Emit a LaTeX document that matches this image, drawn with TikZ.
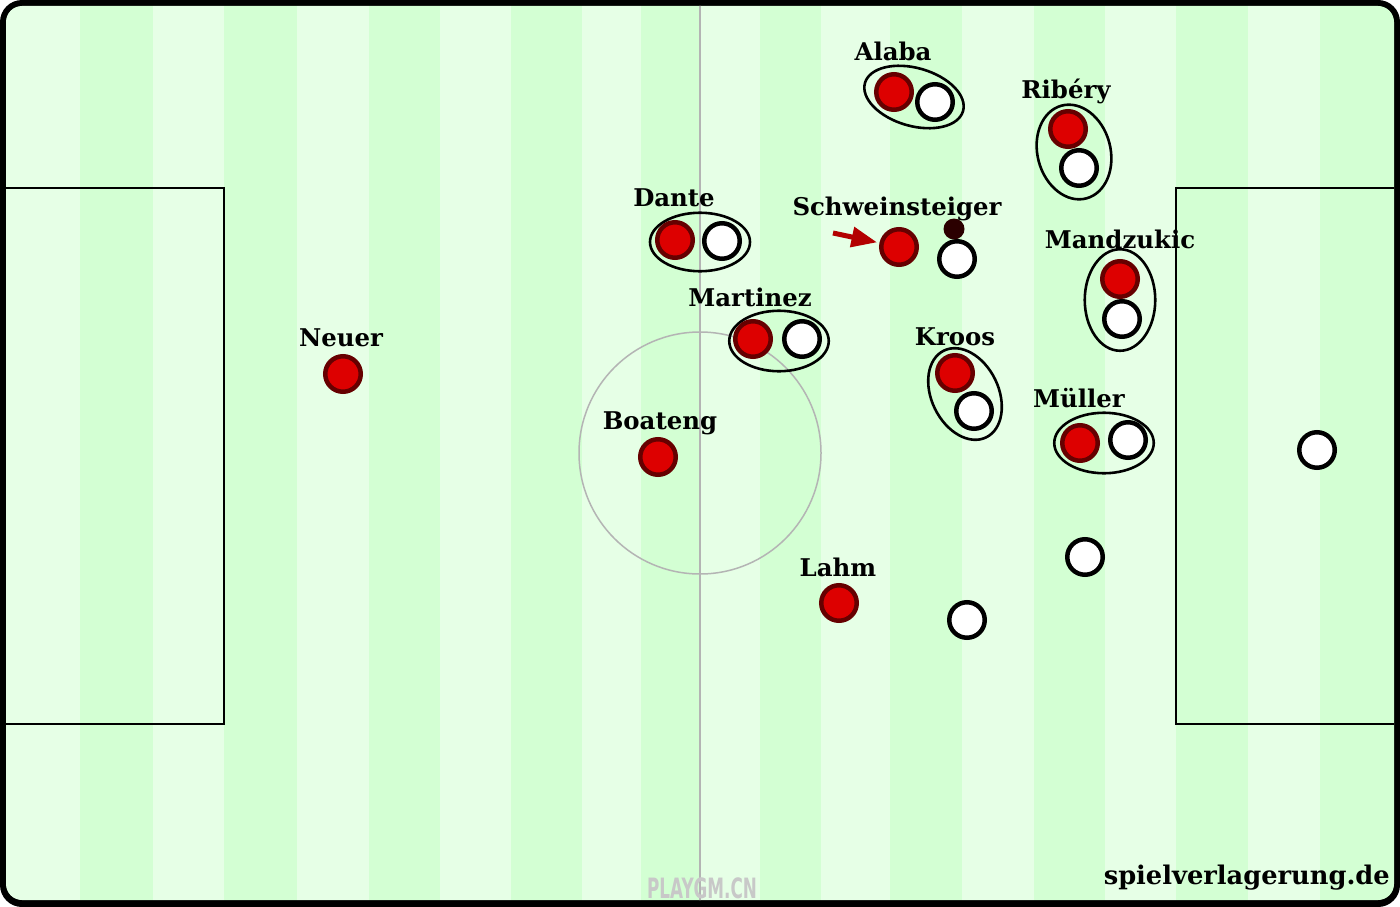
\documentclass[tikz,border=0pt]{standalone}
\usepackage{fontspec}
\setmainfont{DejaVu Serif}
\setsansfont{DejaVu Sans}
\usetikzlibrary{arrows,shapes.geometric}

\definecolor{lightgrass}{HTML}{E6FFE6}
\definecolor{darkgrass}{HTML}{D3FFD3}
\definecolor{playerred}{HTML}{DD0000}
\definecolor{playerrim}{HTML}{660000}
\definecolor{ballbrown}{HTML}{2B0000}
\definecolor{arrowred}{HTML}{B30000}
\definecolor{linegray}{HTML}{B4B4B4}
\definecolor{watergray}{HTML}{C8C8C8}

\tikzset{
  redplayer/.style={circle,draw=playerrim,fill=playerred,line width=4.5pt,minimum size=35.5pt,inner sep=0pt},
  whiteplayer/.style={circle,draw=black,fill=white,line width=4.5pt,minimum size=35.5pt,inner sep=0pt},
  pair/.style={ellipse,draw=black,line width=2.6pt,inner sep=0pt},
  ball/.style={circle,fill=ballbrown,inner sep=0pt,minimum size=21pt},
  playername/.style={font=\bfseries\fontsize{24.4}{24.4}\selectfont,anchor=base,inner sep=0pt}
}

\begin{document}
\begin{tikzpicture}[x=1pt,y=-1pt]
  \useasboundingbox (0,0) rectangle (1400,907);
  \fill[black,rounded corners=22pt] (0,0) rectangle (1400,907);
  \begin{scope}
    \clip[rounded corners=16pt] (6,6) rectangle (1394,900);
    \foreach \a/\b/\c in {0/80/lightgrass,80/153/darkgrass,153/224/lightgrass,224/297/darkgrass,
      297/369/lightgrass,369/440/darkgrass,440/511/lightgrass,511/582/darkgrass,
      582/641/lightgrass,641/700/darkgrass,700/760/lightgrass,760/821/darkgrass,
      821/890/lightgrass,890/962/darkgrass,962/1034/lightgrass,1034/1105/darkgrass,
      1105/1176/lightgrass,1176/1248/darkgrass,1248/1320/lightgrass,1320/1400/darkgrass}
      \fill[\c] (\a,0) rectangle (\b,907);
    \draw[linegray,line width=1.2pt] (700,0) -- (700,907);
    \draw[linegray,line width=1.5pt] (700,453) circle (121);
    \draw[line width=1.5pt] (0,188) rectangle (224,724);
    \draw[line width=1.5pt] (1176,188) rectangle (1400,724);
    \node[font=\sffamily\bfseries\fontsize{28}{28}\selectfont,text=watergray,xscale=0.6,anchor=base,inner sep=0pt] (mark) at (702,898) {PLAYGM.CN};
  \end{scope}

  \node[pair,minimum width=102pt,minimum height=58pt,rotate=-16] (E-Alaba) at (914,97) {};
  \node[pair,minimum width=96pt,minimum height=73pt,rotate=-75] (E-Ribery) at (1074,152) {};
  \node[pair,minimum width=100pt,minimum height=58.5pt] (E-Dante) at (700,242) {};
  \node[pair,minimum width=99.5pt,minimum height=60.5pt] (E-Martinez) at (779,341) {};
  \node[pair,minimum width=70.5pt,minimum height=101.5pt] (E-Mandzukic) at (1120,300) {};
  \node[pair,minimum width=96.5pt,minimum height=67pt,rotate=-64] (E-Kroos) at (965,394) {};
  \node[pair,minimum width=99.5pt,minimum height=60.5pt] (E-Muller) at (1104,443) {};

  \node[redplayer] (R-Neuer) at (343,374) {};
  \node[redplayer] (R-Boateng) at (658,457) {};
  \node[redplayer] (R-Dante) at (675,240) {};
  \node[redplayer] (R-Martinez) at (753,339) {};
  \node[redplayer] (R-Alaba) at (894,92) {};
  \node[redplayer] (R-Ribery) at (1068,129) {};
  \node[redplayer] (R-Schweinsteiger) at (899,247) {};
  \node[redplayer] (R-Mandzukic) at (1120,279) {};
  \node[redplayer] (R-Kroos) at (955,373) {};
  \node[redplayer] (R-Muller) at (1080,443) {};
  \node[redplayer] (R-Lahm) at (839,603) {};

  \node[whiteplayer] (W-1) at (722,241) {};
  \node[whiteplayer] (W-2) at (802,339) {};
  \node[whiteplayer] (W-3) at (935,102) {};
  \node[whiteplayer] (W-4) at (1079,168) {};
  \node[whiteplayer] (W-5) at (957,259) {};
  \node[whiteplayer] (W-6) at (1122,319) {};
  \node[whiteplayer] (W-7) at (974,411) {};
  \node[whiteplayer] (W-8) at (1128,440) {};
  \node[whiteplayer] (W-9) at (1317,450) {};
  \node[whiteplayer] (W-10) at (1085,557) {};
  \node[whiteplayer] (W-11) at (967,620) {};

  \node[ball] (ball) at (954,229) {};

  \node[playername] (L-Neuer) at (341,346) {Neuer};
  \node[playername] (L-Boateng) at (660,429) {Boateng};
  \node[playername] (L-Dante) at (674,206) {Dante};
  \node[playername] (L-Martinez) at (750,306) {Martinez};
  \node[playername] (L-Alaba) at (893,60) {Alaba};
  \node[playername] (L-Ribery) at (1066,98) {Ribéry};
  \node[playername] (L-Schweinsteiger) at (897,215) {Schweinsteiger};
  \node[playername] (L-Mandzukic) at (1120,248) {Mandzukic};
  \node[playername] (L-Kroos) at (955,345) {Kroos};
  \node[playername] (L-Muller) at (1079,407) {Müller};
  \node[playername] (L-Lahm) at (838,576) {Lahm};

  \node[font=\bfseries\fontsize{25.7}{25.7}\selectfont,anchor=base east,inner sep=0pt] (credit) at (1390,884) {spielverlagerung.de};

  \coordinate (A-1) at (833,233);
  \draw[arrowred,line width=5pt,-triangle 45,shorten >=3pt] (A-1) -- (R-Schweinsteiger);
\end{tikzpicture}
\end{document}
